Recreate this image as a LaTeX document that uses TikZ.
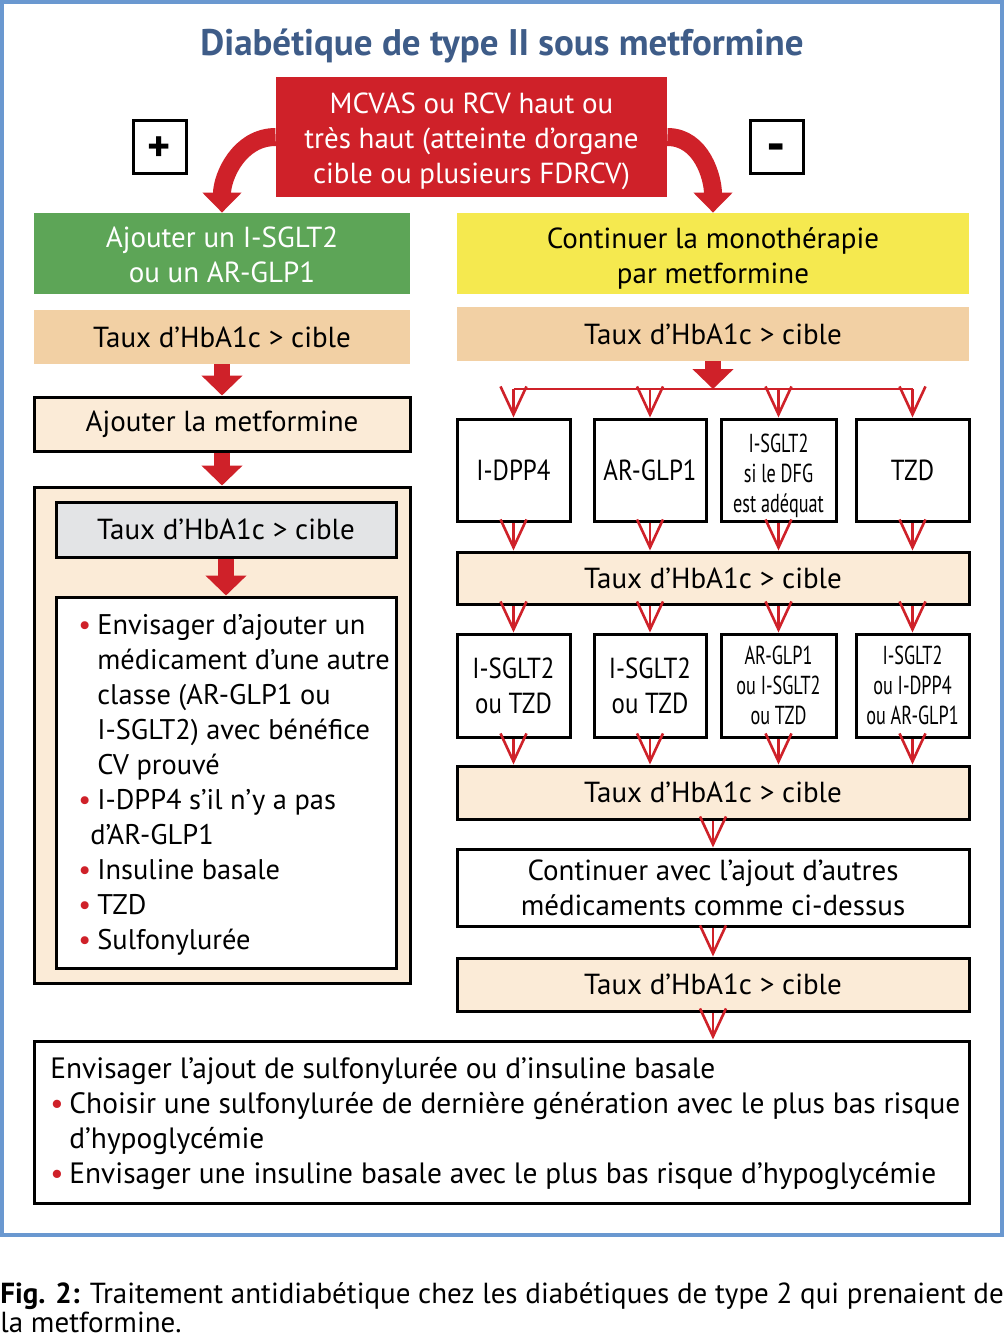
\documentclass[tikz,border=0pt]{standalone}
\usepackage{fontspec}
\setmainfont{PT Sans}
\newfontfamily\etroit[FakeStretch=0.7]{PT Sans}
\newfontfamily\serre[FakeStretch=0.86]{PT Sans}
\usepackage{tikz}
\usetikzlibrary{arrows.meta,calc}

\definecolor{rouge}{HTML}{CF2129}
\definecolor{vert}{HTML}{5DA557}
\definecolor{jaune}{HTML}{F5E94F}
\definecolor{sable}{HTML}{F2D0A4}
\definecolor{creme}{HTML}{FBEBD7}
\definecolor{gris}{HTML}{E3E4E6}
\definecolor{cadre}{HTML}{6A98D0}
\definecolor{titre}{HTML}{3E5C88}

\newcommand\corps{\fontsize{14.5}{17.5}\selectfont}
\newcommand\case{\serre\fontsize{14.5}{17.5}\selectfont}
\newcommand\petit{\etroit\fontsize{13}{15}\selectfont}
\newcommand\puce{\makebox[9.5pt][l]{\textcolor{rouge}{\textbullet}}}
\newcommand\retrait{\hspace*{9.5pt}}
\newcommand\haut{\rule{0pt}{15pt}}

\begin{document}
\begin{tikzpicture}[x=0.5pt,y=-0.5pt,font=\corps,
  boite/.style={draw, line width=1.5pt, inner sep=0pt, align=center},
  plein/.style={inner sep=0pt, align=center},
  fleche/.style={draw=rouge, line width=1.3pt, -{Straight Barb[length=14pt,width=13pt]}},
  fil/.style={draw=rouge, line width=1.3pt},
  grosse/.style={draw=rouge, line width=8pt, -{Triangle[width=20pt,length=10pt]}},
  courbe/.style={draw=rouge, line width=9pt, -{Triangle[width=19pt,length=10pt]}}]

% Page
 \fill[white] (0,0) rectangle (1004,1341);
 \useasboundingbox (0,0) rectangle (1004,1341);
 \draw[cadre, line width=2pt] (2,2) rectangle (1002,1235);

% Title
 \node[text=titre, font=\fontsize{18.5}{22}\selectfont\bfseries] (titre) at (502,46) {Diabétique de type II sous metformine};

% Risk
 \node[plein, fill=rouge, text=white, minimum width=195.5pt, minimum height=60pt] (mcvas) at (471.5,137)
   {\haut MCVAS ou RCV haut ou\\très haut (atteinte d'organe\\cible ou plusieurs FDRCV)};
 \node[boite, minimum size=26.5pt, text height=15pt, text depth=0pt, font=\fontsize{22}{22}\selectfont\bfseries] (plus) at (159.5,146.5) {+};
 \node[boite, minimum size=26.5pt, text height=16pt, text depth=0pt, font=\fontsize{27}{27}\selectfont\bfseries] (moins) at (776.5,146.5) {-};

% Left column
 \node[plein, fill=vert, text=white, minimum width=188pt, minimum height=40.5pt] (ajoutsglt) at (222,253.5)
   {\rule{0pt}{12pt}Ajouter un I-SGLT2\\ou un AR-GLP1};
 \node[plein, fill=sable, minimum width=188pt, minimum height=27pt] (hbg1) at (222,337) {Taux d'HbA1c > cible};
 \node[boite, fill=creme, minimum width=188pt, minimum height=27pt] (ajoutmet) at (222,424) {Ajouter la metformine};
 \node[boite, fill=creme, minimum width=188pt, minimum height=248pt] (cadreg) at (222,735) {};
 \node[boite, fill=gris, minimum width=170pt, minimum height=27.5pt] (hbg2) at (226,529.5) {Taux d'HbA1c > cible};
 \node[boite, fill=white, minimum width=170pt, minimum height=185.5pt] (liste) at (226,782.5) {};
 \node[anchor=north west, align=left, inner sep=0pt, font=\fontsize{14.2}{17.5}\selectfont] (puces) at (78,614)
   {\puce Envisager d'ajouter un\\
    \retrait médicament d'une autre\\
    \retrait classe (AR-GLP1 ou\\
    \retrait I-SGLT2) avec bénéfice\\
    \retrait CV prouvé\\
    \puce I-DPP4 s'il n'y a pas\\
    \hspace*{6pt}d'AR-GLP1\\
    \puce Insuline basale\\
    \puce TZD\\
    \puce Sulfonylurée};

% Right column
 \node[plein, fill=jaune, minimum width=256pt, minimum height=40.5pt] (mono) at (713,253.5)
   {\haut Continuer la monothérapie\\par metformine};
 \node[plein, fill=sable, minimum width=256pt, minimum height=27pt] (hbd1) at (713,334) {Taux d'HbA1c > cible};

 \node[boite, font=\case, minimum width=56.5pt, minimum height=51pt] (r1a) at (513.5,470) {I-DPP4};
 \node[boite, font=\case, minimum width=56pt, minimum height=51pt] (r1b) at (650,470) {AR-GLP1};
 \node[boite, font=\petit, minimum width=57.5pt, minimum height=51pt] (r1c) at (778.5,470)
   {\haut I-SGLT2\\si le DFG\\est adéquat};
 \node[boite, font=\case, minimum width=56.5pt, minimum height=51pt] (r1d) at (912.5,470) {TZD};

 \node[boite, fill=creme, minimum width=256pt, minimum height=26pt] (hbd2) at (713,578) {Taux d'HbA1c > cible};

 \node[boite, font=\case, minimum width=56.5pt, minimum height=51.5pt] (r2a) at (513.5,685.5) {I-SGLT2\\ou TZD};
 \node[boite, font=\case, minimum width=56pt, minimum height=51.5pt] (r2b) at (650,685.5) {I-SGLT2\\ou TZD};
 \node[boite, font=\petit, minimum width=57.5pt, minimum height=51.5pt] (r2c) at (778.5,685.5)
   {AR-GLP1\\ou I-SGLT2\\ou TZD};
 \node[boite, font=\petit, minimum width=56.5pt, minimum height=51.5pt] (r2d) at (912.5,685.5)
   {I-SGLT2\\ou I-DPP4\\ou AR-GLP1};

 \node[boite, fill=creme, minimum width=256pt, minimum height=26.5pt] (hbd3) at (713,792.5) {Taux d'HbA1c > cible};
 \node[boite, fill=white, minimum width=256pt, minimum height=38.5pt] (suite) at (713,887.5)
   {Continuer avec l'ajout d'autres\\médicaments comme ci-dessus};
 \node[boite, fill=creme, minimum width=256pt, minimum height=26.5pt] (hbd4) at (713,984.5) {Taux d'HbA1c > cible};

% Bottom
 \node[boite, fill=white, minimum width=467.5pt, minimum height=81pt] (basale) at (501.5,1122) {};
 \node[anchor=north west, align=left, inner sep=0pt, font=\fontsize{14.7}{17.5}\selectfont] (conseil) at (50,1057)
   {Envisager l'ajout de sulfonylurée ou d'insuline basale\\
    \puce Choisir une sulfonylurée de dernière génération avec le plus bas risque\\
    \retrait d'hypoglycémie\\
    \puce Envisager une insuline basale avec le plus bas risque d'hypoglycémie};

% Caption
 \node[anchor=north west, align=left, inner sep=0pt, font=\fontsize{14.5}{14.5}\selectfont] (legende) at (0,1282)
   {\textbf{Fig. 2:} Traitement antidiabétique chez les diabétiques de type 2 qui prenaient de\\la metformine.};

% Arrows
 \draw[courbe] (mcvas.west) to[out=180, in=90] (ajoutsglt.north);
 \draw[courbe] (mcvas.east) to[out=0, in=90] (mono.north);

 \draw[grosse] (hbg1.south) -- (ajoutmet.north);
 \draw[grosse] (ajoutmet.south) -- (cadreg.north);
 \draw[grosse] (hbg2.south) -- (liste.north);

 \coordinate (fourche) at (713,389);
 \draw[grosse] (hbd1.south) -- (fourche);
 \draw[fil] (r1a.north |- fourche) -- (r1d.north |- fourche);
 \foreach \b/\c in {r1a/r2a,r1b/r2b,r1c/r2c,r1d/r2d} {
   \draw[fleche] (\b.north |- fourche) -- (\b.north);
   \draw[fleche] (\b.south) -- (\b.south |- hbd2.north);
   \draw[fleche] (\c.north |- hbd2.south) -- (\c.north);
   \draw[fleche] (\c.south) -- (\c.south |- hbd3.north);
 }
 \draw[fleche] (hbd3.south) -- (suite.north);
 \draw[fleche] (suite.south) -- (hbd4.north);
 \draw[fleche] (hbd4.south) -- (hbd4.south |- basale.north);

\end{tikzpicture}
\end{document}
